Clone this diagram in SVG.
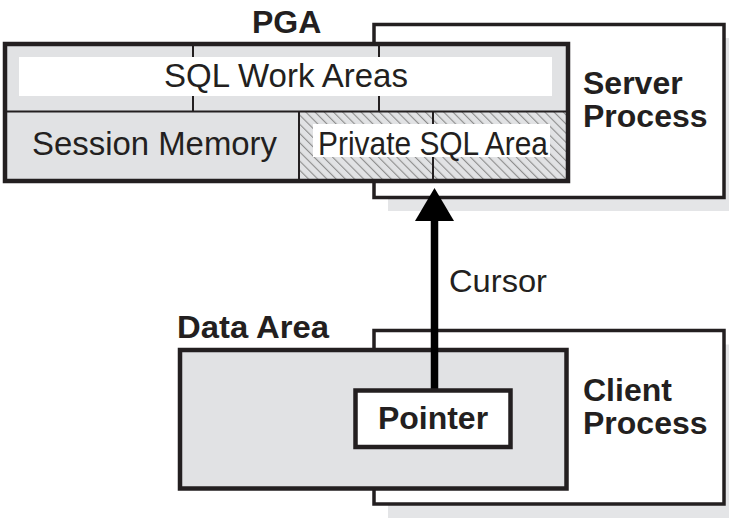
<svg xmlns="http://www.w3.org/2000/svg" width="729" height="519" viewBox="0 0 729 519">
<style>
.shadow{fill:#e4e5e7;stroke:none}
.proc{fill:#ffffff;stroke:#231f20;stroke-width:3.5}
.outer{stroke:#231f20;stroke-width:4.5}
.gray{fill:#e1e2e4}
.band{fill:#ffffff;stroke:none}
.div{stroke:#231f20;stroke-width:2;fill:none}
.t{font-family:"Liberation Sans",Arial,Helvetica,sans-serif;fill:#231f20}
.r{font-size:33px}
.b{font-size:32px;font-weight:bold}
</style>
<defs>
<pattern id="hatch" width="6.5" height="6.5" patternUnits="userSpaceOnUse" patternTransform="rotate(-45)">
<rect width="6.5" height="6.5" fill="#e1e2e4"/>
<line x1="0.5" y1="0" x2="0.5" y2="6.5" stroke="#8c8c8c" stroke-width="1.2"/>
</pattern>
</defs>

<g id="server-process">
<rect class="shadow" x="388" y="38" width="350" height="173"/>
<rect class="proc" x="374" y="24.5" width="350" height="173"/>
<text class="t b" x="583" y="93.5">Server<tspan x="583" dy="33">Process</tspan></text>
</g>

<g id="pga">
<text class="t b" x="252" y="33">PGA</text>
<rect class="gray" x="5" y="44" width="563" height="137"/>
<rect x="299" y="111.5" width="269" height="69.5" fill="url(#hatch)"/>
<line class="div" x1="5" y1="111.5" x2="568" y2="111.5"/>
<line class="div" x1="299" y1="111.5" x2="299" y2="181"/>
<g id="sql-work-areas">
<line class="div" x1="193" y1="44" x2="193" y2="111.5"/>
<line class="div" x1="379" y1="44" x2="379" y2="111.5"/>
<rect class="band" x="19" y="57" width="533" height="39"/>
<text class="t r" x="164" y="86.5" textLength="244" lengthAdjust="spacingAndGlyphs">SQL Work Areas</text>
</g>
<g id="session-memory">
<text class="t r" x="32" y="155" textLength="245" lengthAdjust="spacingAndGlyphs">Session Memory</text>
</g>
<g id="private-sql-area">
<line class="div" x1="433" y1="111.5" x2="433" y2="181"/>
<rect class="band" x="313" y="124" width="237" height="33"/>
<text class="t r" x="318" y="155" textLength="230" lengthAdjust="spacingAndGlyphs">Private SQL Area</text>
</g>
<rect x="5" y="44" width="563" height="137" fill="none" class="outer"/>
</g>

<g id="client-process">
<rect class="shadow" x="388" y="344.5" width="350" height="173.5"/>
<rect class="proc" x="374" y="330.5" width="350" height="173.5"/>
<text class="t b" x="583" y="401">Client<tspan x="583" dy="33">Process</tspan></text>
</g>

<g id="data-area">
<text class="t b" x="177" y="338" textLength="152" lengthAdjust="spacingAndGlyphs">Data Area</text>
<rect class="gray outer" x="180" y="350" width="386.5" height="138.5"/>
</g>

<g id="connectors">
<line x1="434.5" y1="392" x2="434.5" y2="218" stroke="#000000" stroke-width="7.5"/>
<polygon points="434.5,188 415,221 454,221" fill="#000000"/>
<text class="t" font-size="32" x="449" y="292" textLength="98" lengthAdjust="spacingAndGlyphs">Cursor</text>
</g>

<g id="pointer">
<rect class="outer" fill="#ffffff" x="355.5" y="390.5" width="155" height="56.5"/>
<text class="t b" x="433" y="429" text-anchor="middle">Pointer</text>
</g>
</svg>
